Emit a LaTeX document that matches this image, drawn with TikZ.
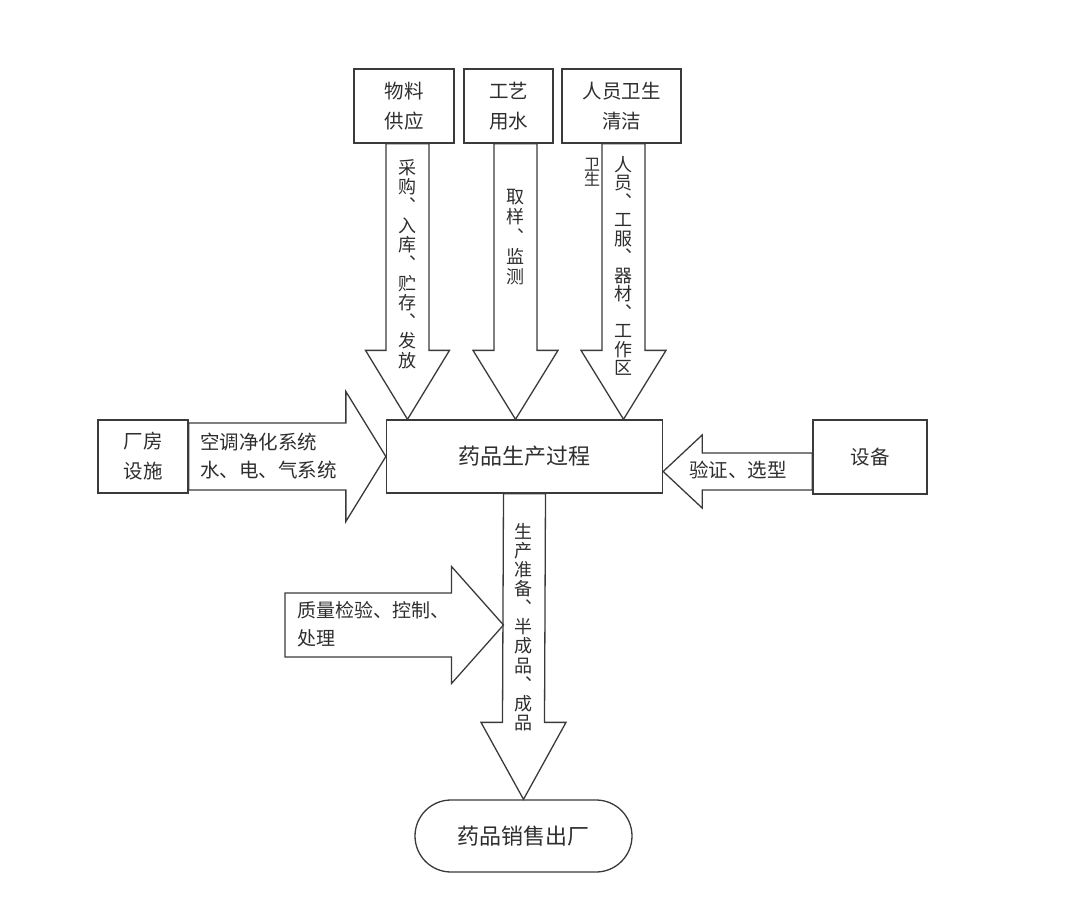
\documentclass[tikz,border=0pt]{standalone}
\usepackage{fontspec}
\setmainfont{Noto Sans CJK SC}
\usepackage{xcolor}
\usetikzlibrary{positioning, calc}

\definecolor{linegray}{HTML}{3A3A3A}
\definecolor{textgray}{HTML}{2E2E2E}

% block arrows: #1 start, #2 tip, #3 half shaft, #4 half head, #5 head length
\newcommand{\blockdown}[5]{\draw[blockarrow] ($(#1)+(-#3,0)$) -- ($(#2)+(-#3,-#5)$) -- ($(#2)+(-#4,-#5)$) -- (#2) -- ($(#2)+(#4,-#5)$) -- ($(#2)+(#3,-#5)$) -- ($(#1)+(#3,0)$) -- cycle;}
\newcommand{\blockright}[5]{\draw[blockarrow] ($(#1)+(0,-#3)$) -- ($(#2)+(-#5,-#3)$) -- ($(#2)+(-#5,-#4)$) -- (#2) -- ($(#2)+(-#5,#4)$) -- ($(#2)+(-#5,#3)$) -- ($(#1)+(0,#3)$) -- cycle;}
\newcommand{\blockleft}[5]{\draw[blockarrow] ($(#1)+(0,-#3)$) -- ($(#2)+(#5,-#3)$) -- ($(#2)+(#5,-#4)$) -- (#2) -- ($(#2)+(#5,#4)$) -- ($(#2)+(#5,#3)$) -- ($(#1)+(0,#3)$) -- cycle;}
% vertical ideographic comma
\newcommand{\vcomma}{︑}

\begin{document}
\begin{tikzpicture}[x=1pt, y=-1pt,
    box/.style={rectangle, draw=linegray, line width=1.3pt, inner sep=0pt, align=center, text=textgray, font=\fontsize{19.5}{30}\selectfont},
    blockarrow/.style={draw=linegray, line width=1.3pt, line join=miter},
    note/.style={inner sep=0pt, align=center, text=textgray, font=\fontsize{18}{19.3}\selectfont}
]
\useasboundingbox (0,0) rectangle (1080,902);

% Boxes
\node[box, minimum width=100pt, minimum height=74pt] (mat) at (404,106) {物料\\供应};
\node[box, minimum width=89pt, minimum height=74pt] (water) at (508.5,106) {工艺\\用水};
\node[box, minimum width=119pt, minimum height=74pt] (staff) at (621.5,106) {人员卫生\\清洁};
\node[box, minimum width=276pt, minimum height=73pt, font=\fontsize{22}{26}\selectfont] (proc) at (524.5,456.5) {药品生产过程};
\node[box, minimum width=90pt, minimum height=73pt] (plant) at (143,456.5) {厂房\\设施};
\node[box, minimum width=114pt, minimum height=74pt] (equip) at (870,457) {设备};
\node[box, rounded corners=36pt, minimum width=217pt, minimum height=72pt, font=\fontsize{22}{26}\selectfont] (sale) at (523.5,836) {药品销售出厂};

% Arrow ends
\coordinate (m1) at ($(mat.south)+(3.5,0)$);
\coordinate (m2) at (m1 |- proc.north);
\coordinate (w1) at ($(water.south)+(7,0)$);
\coordinate (w2) at (w1 |- proc.north);
\coordinate (s1) at ($(staff.south)+(2,0)$);
\coordinate (s2) at (s1 |- proc.north);
\coordinate (e1) at ($(equip.west)+(0,14.5)$);
\coordinate (e2) at (e1 -| proc.east);
\coordinate (q1) at (285,625);
\coordinate (q2) at ($(proc.south |- q1)+(-21,0)$);

% Block arrows
\blockdown{m1}{m2}{21.5}{42}{69}
\blockdown{w1}{w2}{21.5}{42.5}{69}
\blockdown{s1}{s2}{21.5}{42.5}{69}
\blockdown{proc.south}{sale.north}{21}{42.5}{77}
\blockright{plant.east}{proc.west}{33.5}{65}{40}
\blockleft{e1}{e2}{18.5}{36.5}{39}
\blockright{q1}{q2}{32}{58.5}{52}

% Arrow texts
\node[note] (tmat) at (407.5,264) {采\\购\\\vcomma\\入\\库\\\vcomma\\贮\\存\\\vcomma\\发\\放};
\node[note, font=\fontsize{18}{20}\selectfont] (twater) at (515.5,237) {取\\样\\\vcomma\\监\\测};
\node[note, font=\fontsize{18}{18.5}\selectfont] (tstaff) at (623,266) {人\\员\\\vcomma\\工\\服\\\vcomma\\器\\材\\\vcomma\\工\\作\\区};
\node[note, font=\fontsize{16}{15}\selectfont] (tclean) at (592,172) {卫\\生};
\node[note, font=\fontsize{18}{19.1}\selectfont] (tprod) at (523,627) {生\\产\\准\\备\\\vcomma\\半\\成\\品\\\vcomma\\成\\品};
\node[note, anchor=west, align=left, font=\fontsize{19.5}{28}\selectfont] (tplant) at (200,456) {空调净化系统\\水、电、气系统};
\node[note, font=\fontsize{19.5}{24}\selectfont] (tequip) at (738,470) {验证、选型};
\node[note, anchor=west, align=left, font=\fontsize{19}{28}\selectfont] (tqual) at (297,624) {质量检验、控制、\\处理};

\end{tikzpicture}
\end{document}
